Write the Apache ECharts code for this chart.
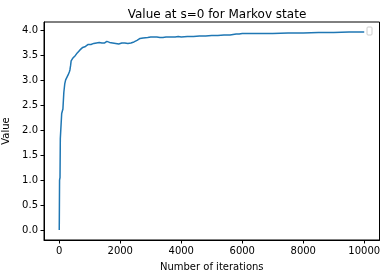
<!DOCTYPE html>
<html>
<head>
<meta charset="utf-8">
<script src="https://cdn.jsdelivr.net/npm/echarts@6/dist/echarts.min.js"></script>
<style>html,body{margin:0;padding:0;background:#fff}#c{width:386px;height:278px}</style>
</head>
<body>
<div id="c"></div>
<script>
const iterations = [0,5,10,25,35,55,80,100,120,150,180,210,250,290,330,350,370,390,410,450,500,530,560,590,620,650,680,710,740,770,800,830,860,890,920,950,980,1010,1040,1070,1100,1130,1160,1190,1220,1250,1280,1310,1340,1370,1400,1430,1460,1490,1520,1560,1600,1650,1700,1750,1800,1850,1900,1950,2000,2050,2100,2150,2200,2250,2300,2350,2400,2450,2500,2550,2600,2650,2700,2750,2800,2900,3000,3100,3200,3300,3400,3500,3600,3700,3800,3900,4000,4200,4400,4600,4800,5000,5200,5400,5600,5700,5800,5900,6000,6200,6500,7000,7500,8000,8500,9000,9500,9999];
const values = [0.0,0.5,1.0,1.05,1.83,1.86,2.33,2.36,2.42,2.75,2.92,3.0,3.03,3.1,3.16,3.2,3.28,3.38,3.41,3.44,3.46,3.49,3.51,3.54,3.56,3.57,3.6,3.61,3.63,3.65,3.66,3.68,3.67,3.70,3.69,3.71,3.70,3.73,3.71,3.72,3.70,3.73,3.74,3.72,3.74,3.73,3.72,3.75,3.74,3.76,3.74,3.75,3.76,3.74,3.75,3.77,3.76,3.75,3.76,3.74,3.74,3.73,3.73,3.72,3.72,3.74,3.73,3.74,3.74,3.73,3.75,3.74,3.76,3.76,3.77,3.79,3.81,3.83,3.84,3.84,3.85,3.85,3.86,3.86,3.86,3.85,3.85,3.86,3.86,3.86,3.86,3.87,3.86,3.87,3.87,3.88,3.88,3.89,3.89,3.90,3.90,3.91,3.92,3.92,3.93,3.93,3.93,3.93,3.94,3.94,3.95,3.95,3.96,3.96];
const xTicks = [0,2000,4000,6000,8000,10000];
const yTicks = [0.0,0.5,1.0,1.5,2.0,2.5,3.0,3.5,4.0];

const chart = echarts.init(document.getElementById('c'), null, {renderer:'canvas'});
const font = 'DejaVu Sans';
chart.setOption({
  animation:false,
  backgroundColor:'#fff',
  title:{text:'Value at s=0 for Markov state', left:212, top:4, textAlign:'center',
    textStyle:{fontFamily:font,fontSize:12,fontWeight:'normal',color:'#000'}},
  grid:{left:44,right:6.5,top:22,bottom:38,show:true,borderColor:'#000',borderWidth:1,backgroundColor:'#fff',
    containLabel:false,outerBoundsMode:'none'},
  xAxis:{type:'value',min:-500,max:10500,interval:2000,
    name:'Number of iterations',nameLocation:'middle',nameGap:22,
    nameTextStyle:{fontFamily:font,fontSize:10,color:'#000'},
    axisLine:{show:true,onZero:false,lineStyle:{color:'#000',width:1}},
    axisTick:{show:true,length:3.5,lineStyle:{color:'#000'},customValues:xTicks},
    axisLabel:{fontFamily:font,fontSize:10,color:'#000',margin:6,customValues:xTicks,
      formatter:v=>String(v)},
    splitLine:{show:false}},
  yAxis:{type:'value',min:-0.198,max:4.158,
    name:'Value',nameLocation:'middle',nameGap:33,
    nameTextStyle:{fontFamily:font,fontSize:10,color:'#000'},
    axisLine:{show:true,onZero:false,lineStyle:{color:'#000',width:1}},
    axisTick:{show:true,length:3.5,lineStyle:{color:'#000'},customValues:yTicks},
    axisLabel:{fontFamily:font,fontSize:10,color:'#000',margin:6,customValues:yTicks,
      formatter:v=>v.toFixed(1)},
    splitLine:{show:false}},
  series:[{type:'line',data:iterations.map((x,i)=>[x,values[i]]),showSymbol:false,
    lineStyle:{color:'#1f77b4',width:1.5},itemStyle:{color:'#1f77b4'},clip:true}],
  graphic:[{type:'rect',shape:{x:367,y:27,width:5,height:8,r:1},
    style:{fill:'#fff',stroke:'#cccccc',lineWidth:1}}]
});
</script>
</body>
</html>
